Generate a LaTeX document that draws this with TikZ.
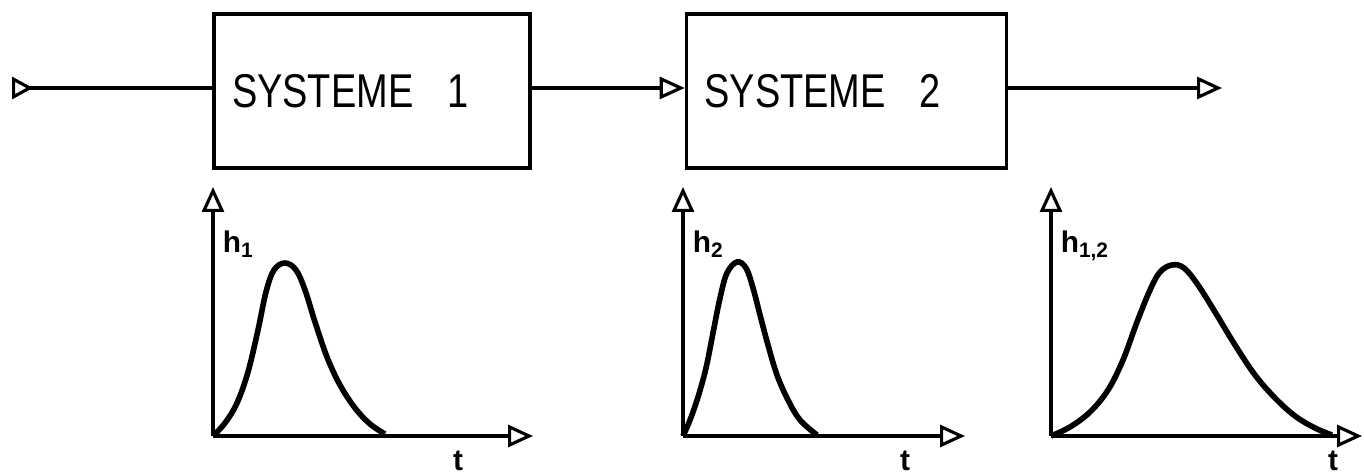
\documentclass[tikz,border=0pt]{standalone}
\usepackage{fontspec}
\setmainfont{Liberation Sans}
\usepackage{graphicx}
\usetikzlibrary{arrows.meta, positioning}

\begin{document}
\begin{tikzpicture}[x=0.02cm, y=-0.02cm, line width=2pt,
    >={Triangle[open, length=0.5cm, width=0.44cm, line width=1.8pt]},
    sysbox/.style={draw, rectangle, minimum height=3.08cm, inner xsep=0.36cm,
        align=left, font=\fontsize{27}{29}\selectfont},
    lbl/.style={font=\bfseries\fontsize{17}{18}\selectfont, inner sep=0pt},
    courbe/.style={line width=3.2pt, smooth, tension=0.6}]
    \useasboundingbox (0,0) rectangle (1364,475);

    % Les deux systemes en serie
    \node[sysbox, text width=5.6cm] (sys1) at (372,91)
        {\scalebox{0.8}[1]{SYSTEME\hspace{0.85cm}1}};
    \node[sysbox, text width=5.68cm, right=3.06cm of sys1] (sys2)
        {\scalebox{0.8}[1]{SYSTEME\hspace{0.85cm}2}};

    % Entree, liaison et sortie
    \coordinate (entree) at (12,88);
    \coordinate (sortie) at (1222,88);
    \draw[{Triangle[open, reversed, length=0.42cm, width=0.44cm, line width=1.8pt]}-]
        (entree) -- (entree -| sys1.west);
    \draw[->] (sys1.east |- entree) -- (sys2.west |- entree);
    \draw[->] (sys2.east |- entree) -- (sortie);

    % Axes des trois reponses impulsionnelles
    \coordinate (o1) at (213,436);
    \coordinate (o2) at (683,436);
    \coordinate (o3) at (1051,436);
    \draw[->] (o1) -- (213,187);
    \draw[->] (o1) -- (533,436);
    \draw[->] (o2) -- (683,187);
    \draw[->] (o2) -- (965,436);
    \draw[->] (o3) -- (1051,187);
    \draw[->] (o3) -- (1362,436);

    % Courbes h1, h2 et h1,2
    \draw[courbe] plot coordinates {(213,436) (225,423) (237,403) (248,372)
        (258,330) (266,292) (274,270) (285,263) (296,270) (305,290) (315,322)
        (327,357) (340,385) (355,408) (370,424) (385,434)};
    \draw[courbe] plot coordinates {(683,436) (690,420) (698,397) (706,368)
        (713,333) (720,298) (727,273) (737,262) (746,268) (753,288) (760,315)
        (768,345) (777,375) (788,400) (800,420) (817,435)};
    \draw[courbe] plot coordinates {(1051,436) (1070,427) (1090,412) (1108,390)
        (1123,360) (1137,322) (1150,290) (1160,272) (1172,265) (1184,268)
        (1198,285) (1215,312) (1235,345) (1255,375) (1275,398) (1295,416)
        (1315,428) (1332,435)};

    % Etiquettes
    \node[lbl, anchor=base west] (h1) at (221,253) {h\textsubscript{1}};
    \node[lbl, anchor=base west] (h2) at (691,253) {h\textsubscript{2}};
    \node[lbl, anchor=base west] (h12) at (1059,253) {h\textsubscript{1,2}};
    \node[lbl, anchor=base] (t1) at (458,470) {t};
    \node[lbl, anchor=base] (t2) at (905,470) {t};
    \node[lbl, anchor=base] (t3) at (1333,470) {t};
\end{tikzpicture}
\end{document}
